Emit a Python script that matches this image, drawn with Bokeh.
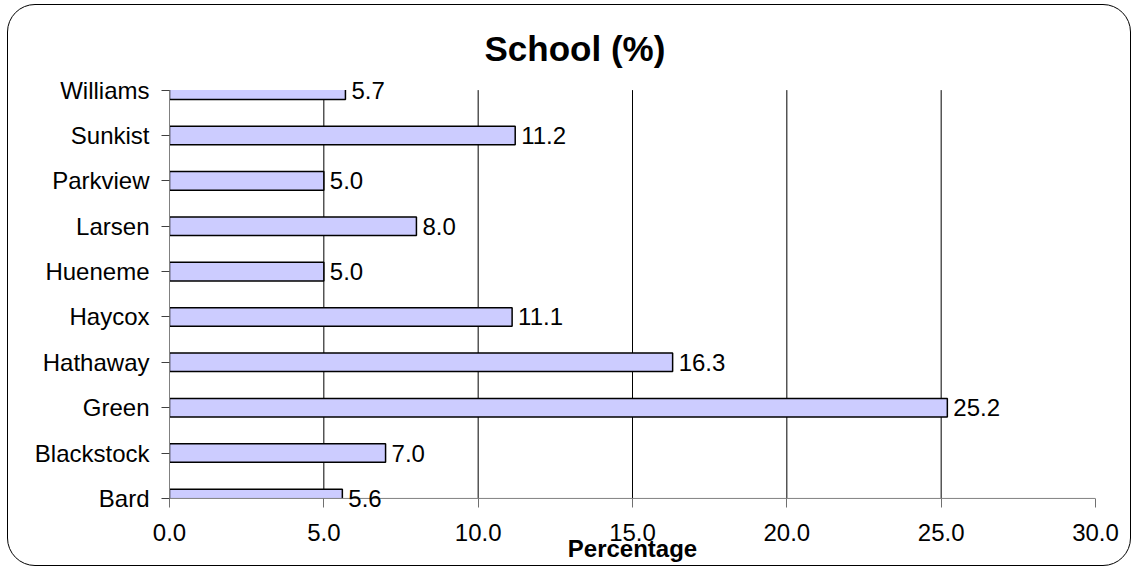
from bokeh.plotting import figure
from bokeh.models import ColumnDataSource, Range1d, FixedTicker, LabelSet, NumeralTickFormatter
from bokeh.core.properties import value
from bokeh.embed import file_html
from bokeh.resources import INLINE

schools = ["Bard", "Blackstock", "Green", "Hathaway", "Haycox",
           "Hueneme", "Larsen", "Parkview", "Sunkist", "Williams"]
percent = [5.6, 7.0, 25.2, 16.3, 11.1, 5.0, 8.0, 5.0, 11.2, 5.7]
x_ticks = [0, 5, 10, 15, 20, 25, 30]
grid_ticks = [5, 10, 15, 20, 25]

FONT = "Liberation Sans"
BAR_H = 0.41
pos = list(range(len(schools)))
lo, hi = pos[0], pos[-1]          # plot area spans category centres of first/last school

# bars clipped to the plot area (as in the original, first & last bars are cut in half)
half = BAR_H / 2
bottoms = [max(i - half, lo) for i in pos]
tops = [min(i + half, hi) for i in pos]
out_xs, out_ys = [], []
for i, v, b, t in zip(pos, percent, bottoms, tops):
    if i - half >= lo and i + half <= hi:
        out_xs.append([0, v, v, 0, 0]); out_ys.append([b, b, t, t, b])
    elif i + half > hi:
        out_xs.append([0, 0, v, v]); out_ys.append([t, b, b, t])
    else:
        out_xs.append([0, 0, v, v]); out_ys.append([b, t, t, b])

src = ColumnDataSource(dict(y=pos, x=percent, bottom=bottoms, top=tops,
                            label=[f"{v:.1f}" for v in percent]))

p = figure(width=1124, height=562, x_range=Range1d(x_ticks[0], x_ticks[-1]),
           y_range=Range1d(lo - 0.2, hi + 0.3),
           output_backend="svg", toolbar_location=None,
           min_border_left=161, min_border_right=37, min_border_top=71, min_border_bottom=60)
p.styles = {"border": "1px solid black", "border-radius": "28px", "margin": "4px 0 0 7px"}
p.outline_line_color = None
p.background_fill_color = "white"
p.border_fill_color = None
p.xgrid.visible = False
p.ygrid.visible = False

# vertical gridlines (only inside the plot area)
p.segment(x0=grid_ticks, y0=[lo] * len(grid_ticks), x1=grid_ticks, y1=[hi] * len(grid_ticks),
          line_color="black", line_width=1)

p.quad(left=0, right="x", bottom="bottom", top="top", fill_color="#CCCCFF",
       line_color=None, source=src)
p.multi_line(xs=out_xs, ys=out_ys, line_color="black", line_width=1.5)

# x axis line at the bottom of the plot area
p.segment(x0=[x_ticks[0]], y0=[lo], x1=[x_ticks[-1]], y1=[lo], line_color="#808080", line_width=1)

labels = LabelSet(x="x", y="y", text="label", source=src, x_offset=6,
                  text_baseline="middle", text_align="left",
                  text_font_size=value("24px"), text_font=value(FONT), text_color="black")
p.add_layout(labels)

p.title.text = "School (%)"
p.title.align = "left"
p.title.offset = 315
p.title.text_font = FONT
p.title.text_font_size = "35px"
p.title.text_font_style = "bold"
p.title.text_color = "black"
p.title.standoff = 18

xa = p.xaxis[0]
xa.ticker = FixedTicker(ticks=x_ticks)
xa.formatter = NumeralTickFormatter(format="0.0")
xa.minor_tick_line_color = None
xa.major_tick_out = 0
xa.major_tick_in = 9
xa.axis_line_color = None
xa.major_tick_line_color = "#707070"
xa.major_label_text_font = FONT
xa.major_label_text_font_size = "24px"
xa.major_label_text_color = "black"
xa.major_label_standoff = 16
xa.axis_label = "Percentage"
xa.axis_label_text_font = FONT
xa.axis_label_text_font_size = "24px"
xa.axis_label_text_font_style = "bold"
xa.axis_label_text_color = "black"
xa.axis_label_standoff = -9

ya = p.yaxis[0]
ya.ticker = FixedTicker(ticks=pos)
ya.bounds = (lo, hi)
ya.major_label_overrides = {i: s for i, s in zip(pos, schools)}
ya.minor_tick_line_color = None
ya.major_tick_out = 8
ya.major_tick_in = 0
ya.axis_line_color = "#808080"
ya.major_tick_line_color = "#404040"
ya.major_label_text_font = FONT
ya.major_label_text_font_size = "24px"
ya.major_label_text_color = "black"
ya.major_label_standoff = 12

open("out.html", "w").write(file_html(p, INLINE))
